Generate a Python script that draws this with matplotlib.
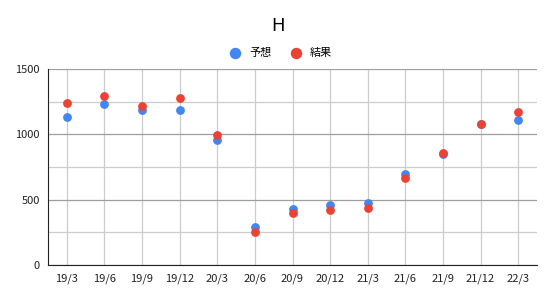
import matplotlib.pyplot as plt

plt.rcParams['font.family'] = ['Noto Sans CJK JP', 'DejaVu Sans']

quarters = ["19/3", "19/6", "19/9", "19/12", "20/3", "20/6", "20/9",
            "20/12", "21/3", "21/6", "21/9", "21/12", "22/3"]
forecast = [1130, 1232, 1183, 1188, 953, 288, 425, 459, 471, 698, 850, 1080, 1109]
result = [1242, 1290, 1219, 1275, 995, 250, 398, 423, 436, 666, 856, 1081, 1171]

fig = plt.figure(figsize=(5.56, 2.98), dpi=100)
ax = fig.add_axes([48 / 556, 1 - 265 / 298, (537 - 48) / 556, (265 - 69) / 298])

x = list(range(len(quarters)))
ax.scatter(x, forecast, s=40, color="#4285F4", label="予想", zorder=3, linewidths=0)
ax.scatter(x, result, s=40, color="#EA4335", label="結果", zorder=4, linewidths=0)

ax.set_xlim(-0.5, 12.5)
ax.set_ylim(0, 1500)
ax.set_xticks(x)
ax.set_xticklabels(quarters)
ax.set_yticks([0, 500, 1000, 1500])
ax.set_yticks([250, 750, 1250], minor=True)

ax.grid(True, which="major", axis="y", color="#9e9e9e", linewidth=0.9)
ax.grid(True, which="minor", axis="y", color="#cccccc", linewidth=0.9)
ax.grid(True, which="major", axis="x", color="#cccccc", linewidth=0.9)
ax.set_axisbelow(True)

for side in ["top", "right"]:
    ax.spines[side].set_visible(False)
ax.spines["bottom"].set_color("#222222")
ax.spines["left"].set_color("#222222")
ax.tick_params(axis="x", length=0, labelsize=8, pad=6, colors="#222222")
ax.tick_params(axis="y", which="major", length=0, labelsize=8, pad=6, colors="#222222")
ax.tick_params(axis="y", which="minor", length=0)

fig.text(0.5, 1 - 26 / 298, "H", ha="center", va="center", fontsize=13, family="DejaVu Sans")
fig.legend(loc="center", bbox_to_anchor=(0.5, 1 - 53 / 298), ncol=2, frameon=False,
           fontsize=8, handletextpad=0.3, columnspacing=1.2, markerscale=1.3)

fig.savefig("out.png", dpi=100)
